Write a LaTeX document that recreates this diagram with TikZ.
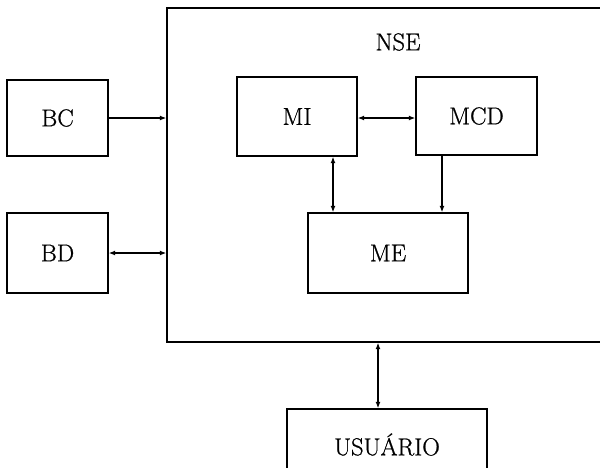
\documentclass[tikz,border=0pt]{standalone}
\usepackage{fontspec}
\newfontfamily\lblfont{Latin Modern Roman}[FakeBold=0.8]
\usetikzlibrary{arrows.meta}
\begin{document}
\begin{tikzpicture}[x=1pt,y=-1pt,
  lbl/.style={font=\lblfont\fontsize{24.5}{29}\selectfont},
  box/.style={draw,line width=1.4pt,inner sep=0pt,lbl},
  conn/.style={line width=1.2pt},
  tip/.style={-{Latex[length=6.5pt,width=5pt]}},
  dtip/.style={{Latex[length=6.5pt,width=5pt]}-{Latex[length=6.5pt,width=5pt]}}]
\useasboundingbox (0,0) rectangle (600,467);
\clip (0,0) rectangle (600,467);
\node[box,minimum width=453pt,minimum height=334pt] (nse) at (393.5,175) {};
\node[lbl] (nsel) at (398,42) {NSE};
\node[box,minimum width=101pt,minimum height=76pt] (bc) at (57.5,118) {BC};
\node[box,minimum width=101pt,minimum height=80pt] (bd) at (57.5,253) {BD};
\node[box,minimum width=120pt,minimum height=79pt] (mi) at (297,116.5) {MI};
\node[box,minimum width=121pt,minimum height=78pt] (mcd) at (476.5,116) {MCD};
\node[box,minimum width=160pt,minimum height=80pt] (me) at (388,253) {ME};
\node[box,minimum width=200pt,minimum height=71pt] (usr) at (387,444.5) {USUÁRIO};
\coordinate (c1) at (333,0);
\coordinate (c2) at (442,0);
\coordinate (c3) at (378,0);
\draw[conn,tip] (bc.east) -- (nse.west |- bc.east);
\draw[conn,dtip] (bd.east) -- (nse.west |- bd.east);
\draw[conn,dtip] (mi.east |- 0,118) -- (mcd.west |- 0,118);
\draw[conn,dtip] (mi.south -| c1) -- (me.north -| c1);
\draw[conn,tip] (mcd.south -| c2) -- (me.north -| c2);
\draw[conn,dtip] (nse.south -| c3) -- (usr.north -| c3);
\end{tikzpicture}
\end{document}
